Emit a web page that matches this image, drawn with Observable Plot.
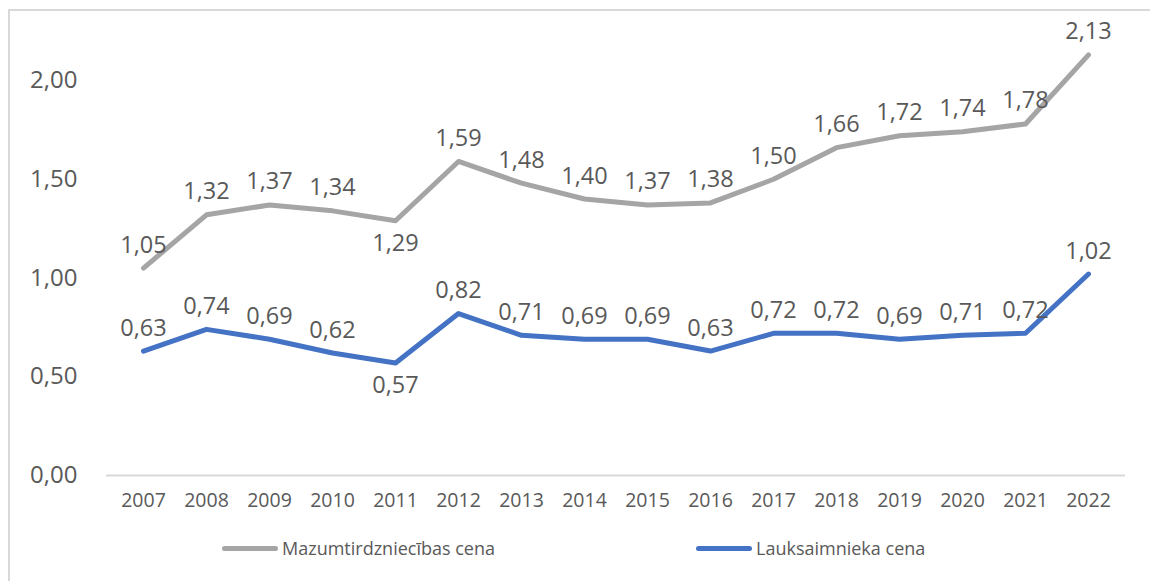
<!DOCTYPE html>
<html>
<head>
<meta charset="utf-8">
<script src="https://cdn.jsdelivr.net/npm/d3@7"></script>
<script src="https://cdn.jsdelivr.net/npm/@observablehq/plot@0.6"></script>
<style>
  html, body { margin: 0; padding: 0; background: #fff; overflow: hidden; width: 1150px; height: 581px; }
  #frame { position: absolute; left: 8px; top: 9px; width: 1200px; height: 620px; border: 2px solid #d9d9d9; box-sizing: border-box; }
  #chart { position: absolute; left: 0; top: 0; }
  .leg { position: absolute; top: 537px; font-family: "Open Sans", sans-serif; font-size: 18px; color: #595959; display: flex; align-items: center; height: 22px; }
  .leg .sw { width: 56px; height: 5px; border-radius: 3px; margin-right: 4px; }
</style>
</head>
<body>
<div id="frame"></div>
<div id="chart"></div>
<div class="leg" style="left:222px"><span class="sw" style="background:#a5a5a5"></span>Mazumtirdzniecības cena</div>
<div class="leg" style="left:696px"><span class="sw" style="background:#4472c4"></span>Lauksaimnieka cena</div>
<script>
const years = ["2007","2008","2009","2010","2011","2012","2013","2014","2015","2016","2017","2018","2019","2020","2021","2022"];
const retailPrice = [1.05,1.32,1.37,1.34,1.29,1.59,1.48,1.40,1.37,1.38,1.50,1.66,1.72,1.74,1.78,2.13];
const farmerPrice = [0.63,0.74,0.69,0.62,0.57,0.82,0.71,0.69,0.69,0.63,0.72,0.72,0.69,0.71,0.72,1.02];
const seriesNames = ["Mazumtirdzniecības cena", "Lauksaimnieka cena"];
const yTicks = [0, 0.5, 1.0, 1.5, 2.0];

const fmt = v => d3.format(".2f")(v).replace(".", ",");
const retail = years.map((y, i) => ({year: y, value: retailPrice[i], series: seriesNames[0]}));
const farmer = years.map((y, i) => ({year: y, value: farmerPrice[i], series: seriesNames[1]}));
const all = retail.concat(farmer);
const isBelow = d => d.year === "2011";
const above = all.filter(d => !isBelow(d));
const below = all.filter(d => isBelow(d));

const font = "'Open Sans', sans-serif";
const chart = Plot.plot({
  width: 1150,
  height: 520,
  marginLeft: 106,
  marginRight: 25,
  marginTop: 20.75,
  marginBottom: 45,
  style: {fontFamily: font, color: "#595959", background: "transparent"},
  x: {type: "point", domain: years, padding: 0.5, axis: null},
  y: {domain: [0, 2.3], axis: null},
  color: {domain: seriesNames, range: ["#a5a5a5", "#4472c4"]},
  marks: [
    Plot.ruleY([0], {stroke: "#d9d9d9", strokeWidth: 2}),
    Plot.axisX({tickSize: 0, tickPadding: 18, fontSize: 19.5, fill: "#595959", label: null}),
    Plot.axisY({ticks: yTicks, tickSize: 0, tickPadding: 29, fontSize: 24, fill: "#595959", label: null, tickFormat: fmt}),
    Plot.line(all, {x: "year", y: "value", z: "series", stroke: "series", strokeWidth: 5, strokeLinecap: "round", strokeLinejoin: "round"}),
    Plot.text(above, {x: "year", y: "value", text: d => fmt(d.value), dy: -23, fontSize: 23.5, fill: "#595959"}),
    Plot.text(below, {x: "year", y: "value", text: d => fmt(d.value), dy: 23, fontSize: 23.5, fill: "#595959"})
  ]
});
document.getElementById("chart").appendChild(chart);
</script>
</body>
</html>
